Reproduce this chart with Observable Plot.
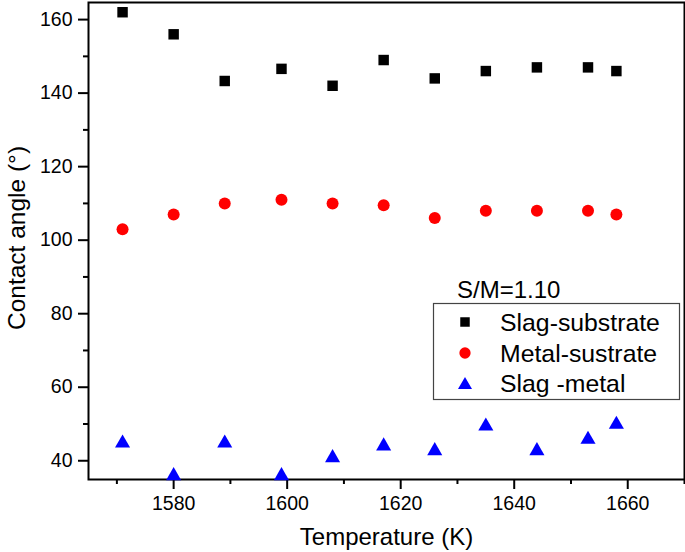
<!DOCTYPE html>
<html>
<head>
<meta charset="utf-8">
<script src="https://cdn.jsdelivr.net/npm/d3@7"></script>
<script src="https://cdn.jsdelivr.net/npm/@observablehq/plot@0.6"></script>
<style>
  html, body { margin: 0; padding: 0; background: #fff; }
  #wrap { position: relative; width: 685px; height: 552px; }
  #wrap svg { position: absolute; left: 0; top: 0; }
</style>
</head>
<body>
<div id="wrap"></div>
<script>
// ---- data ----
const temps = [1571, 1580, 1589, 1599, 1608, 1617, 1626, 1635, 1644, 1653, 1658];
const slagSubstrate = [162, 156, 143.3, 146.6, 142, 149, 144, 146, 147, 147, 146];
const metalSubstrate = [103, 107, 110, 111, 110, 109.5, 106, 108, 108, 108, 107];
const slagMetal = [44.8, 35.9, 44.8, 35.9, 40.8, 44, 42.7, 49.4, 42.7, 45.8, 49.9];

const seriesNames = ["Slag-substrate", "Metal-sustrate", "Slag -metal"];
const seriesColors = ["#000000", "#ff0000", "#0000ff"];
const seriesSymbols = ["square", "circle", "triangle"];
const legendTitle = "S/M=1.10";

const xMajor = [1580, 1600, 1620, 1640, 1660];
const xMinor = [1570, 1590, 1610, 1630, 1650, 1670];
const yMajor = [40, 60, 80, 100, 120, 140, 160];
const yMinor = [50, 70, 90, 110, 130, 150];
const xLabel = "Temperature (K)";
const yLabel = "Contact angle (°)";

const rows = [];
[slagSubstrate, metalSubstrate, slagMetal].forEach((vals, s) => {
  vals.forEach((v, i) => rows.push({T: temps[i], angle: v, series: seriesNames[s]}));
});

const font = "'Liberation Sans', Arial, Helvetica, sans-serif";

const chart = Plot.plot({
  width: 685,
  height: 552,
  marginLeft: 88,
  marginRight: 1,
  marginTop: 2,
  marginBottom: 73,
  style: {fontFamily: font, background: "transparent", color: "#000"},
  x: {domain: [1565, 1670]},
  y: {domain: [34.9, 164.65]},
  color: {domain: seriesNames, range: seriesColors},
  symbol: {domain: seriesNames, range: seriesSymbols},
  marks: [
    Plot.axisX({ticks: xMajor, tickSize: 10, tickPadding: 7, fontSize: 19.5, tickFormat: d => String(d), strokeWidth: 2, label: null}),
    Plot.axisX({ticks: xMinor, tickSize: 5, tickFormat: () => "", strokeWidth: 2, label: null}),
    Plot.axisY({ticks: yMajor, tickSize: 10, tickPadding: 6, fontSize: 19.5, tickFormat: d => String(d), strokeWidth: 2, label: null}),
    Plot.axisY({ticks: yMinor, tickSize: 5, tickFormat: () => "", strokeWidth: 2, label: null}),
    Plot.text([xLabel], {frameAnchor: "bottom", dy: 58, fontSize: 24, lineAnchor: "middle", fill: "#000"}),
    Plot.frame({stroke: "#000", strokeWidth: 2}),
    Plot.dot(rows.filter(d => d.series === seriesNames[0]), {x: "T", y: "angle", symbol: "series", fill: "series", r: 5.9}),
    Plot.dot(rows.filter(d => d.series === seriesNames[1]), {x: "T", y: "angle", symbol: "series", fill: "series", r: 6}),
    Plot.dot(rows.filter(d => d.series === seriesNames[2]), {x: "T", y: "angle", symbol: "series", fill: "series", r: 5.6})
  ]
});
document.getElementById("wrap").appendChild(chart);

// ---- overlay: y title and legend ----
const ov = d3.select("#wrap").append("svg")
  .attr("width", 685).attr("height", 552)
  .style("pointer-events", "none")
  .style("font-family", font);

ov.append("text")
  .attr("transform", "translate(16,238) rotate(-90)")
  .attr("text-anchor", "middle")
  .attr("dy", "0.35em")
  .attr("font-size", 24.5)
  .attr("fill", "#000")
  .text(yLabel);

ov.append("text")
  .attr("x", 457).attr("y", 298)
  .attr("font-size", 24)
  .attr("fill", "#000")
  .text(legendTitle);

ov.append("rect")
  .attr("x", 433.5).attr("y", 303.5)
  .attr("width", 246).attr("height", 96)
  .attr("fill", "#fff")
  .attr("stroke", "#444")
  .attr("stroke-width", 1.2);

const symMap = {square: d3.symbolSquare, circle: d3.symbolCircle, triangle: d3.symbolTriangle};
const symSize = {square: 90, circle: 100, triangle: 85};
const rowY = [322, 353, 383];
seriesNames.forEach((name, i) => {
  const s = seriesSymbols[i];
  const ty = s === "triangle" ? rowY[i] + 2 : rowY[i];
  ov.append("path")
    .attr("transform", `translate(465,${ty})`)
    .attr("d", d3.symbol(symMap[s], symSize[s])())
    .attr("fill", seriesColors[i]);
  ov.append("text")
    .attr("x", 500).attr("y", rowY[i])
    .attr("dy", "0.35em")
    .attr("font-size", 24.8)
    .attr("fill", "#000")
    .text(name);
});
</script>
</body>
</html>
